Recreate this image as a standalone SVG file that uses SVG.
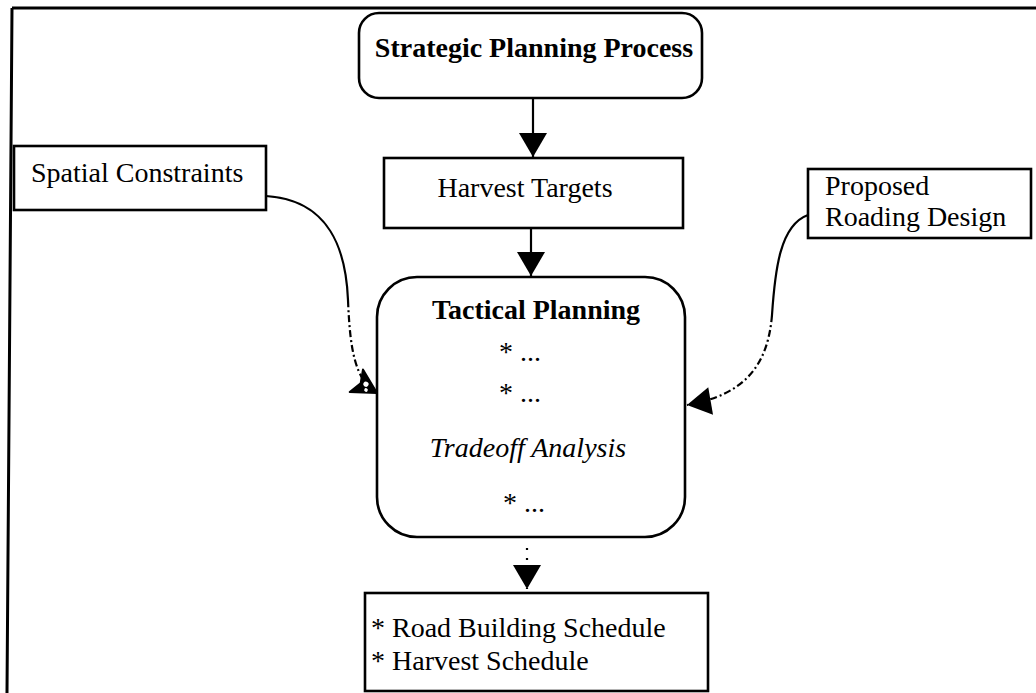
<svg xmlns="http://www.w3.org/2000/svg" width="1036" height="693" viewBox="0 0 1036 693">
  <style>
    .box { fill: #fff; stroke: #000; stroke-width: 2.6; }
    .frame { fill: none; stroke: #000; stroke-width: 3; }
    .t { font-family: "Liberation Serif", "Times New Roman", serif; font-size: 28px; fill: #000; }
    .b { font-weight: bold; }
    .i { font-style: italic; }
    .wire { fill: none; stroke: #000; stroke-width: 2.2; }
    .dash { stroke-dasharray: 7 3 2 3; }
    .dots { stroke-dasharray: 2 8; }
  </style>
  <defs>
    <marker id="head" viewBox="0 0 26 30" markerUnits="userSpaceOnUse" markerWidth="26" markerHeight="30" refX="25" refY="15" orient="auto">
      <path d="M1,1 L25,15 L1,29 Z" fill="#000"/>
    </marker>
    <marker id="head-worn" viewBox="0 0 28 30" markerUnits="userSpaceOnUse" markerWidth="28" markerHeight="30" refX="26" refY="15" orient="auto">
      <path d="M2,2 L26,15 L2,28 L7,15 Z" fill="#000" stroke="#000" stroke-width="2" stroke-linejoin="round"/>
      <circle cx="12" cy="13" r="2.6" fill="#fff"/>
      <circle cx="15" cy="18" r="1.8" fill="#fff"/>
    </marker>
  </defs>

  <!-- page frame (top and left edges) -->
  <path class="frame" d="M12,8 L1036,8 M12,8 L7,693"/>

  <!-- connectors -->
  <g id="connectors">
    <path class="wire" d="M533,98 L533,157" marker-end="url(#head)"/>
    <path class="wire" d="M531,228 L531,276" marker-end="url(#head)"/>
    <path class="wire dots" d="M527,548 L527,589" marker-end="url(#head)"/>
    <path class="wire" d="M266,196 C330,200 346,250 348,300"/>
    <path class="wire dash" d="M348,300 C350,350 355,380 377,393" marker-end="url(#head-worn)"/>
    <path class="wire" d="M808,215 C780,225 775,270 772,315"/>
    <path class="wire dash" d="M772,315 C768,365 745,395 687,405" marker-end="url(#head)"/>
  </g>

  <g id="strategic-planning">
    <rect class="box" x="359" y="13" width="343" height="85" rx="20"/>
    <text class="t b" x="534" y="57" text-anchor="middle">Strategic Planning Process</text>
  </g>

  <g id="harvest-targets">
    <rect class="box" x="384" y="158" width="299" height="70"/>
    <text class="t" x="525" y="197" font-size="30" text-anchor="middle">Harvest Targets</text>
  </g>

  <g id="spatial-constraints">
    <rect class="box" x="14" y="146" width="252" height="64"/>
    <text class="t" x="31" y="182">Spatial Constraints</text>
  </g>

  <g id="roading-design">
    <rect class="box" x="808" y="169" width="223" height="69"/>
    <text class="t" x="825" y="195">Proposed</text>
    <text class="t" x="825" y="226">Roading Design</text>
  </g>

  <g id="tactical-planning">
    <rect class="box" x="377" y="277" width="308" height="260" rx="40"/>
    <text class="t b" x="536" y="319" text-anchor="middle">Tactical Planning</text>
    <text class="t" x="499" y="361">* ...</text>
    <text class="t" x="499" y="402">* ...</text>
    <text class="t i" x="528" y="457" text-anchor="middle">Tradeoff Analysis</text>
    <text class="t" x="503" y="512">* ...</text>
  </g>

  <g id="schedules">
    <rect class="box" x="365" y="593" width="343" height="98"/>
    <text class="t" x="371" y="637">* Road Building Schedule</text>
    <text class="t" x="371" y="670">* Harvest Schedule</text>
  </g>
</svg>
